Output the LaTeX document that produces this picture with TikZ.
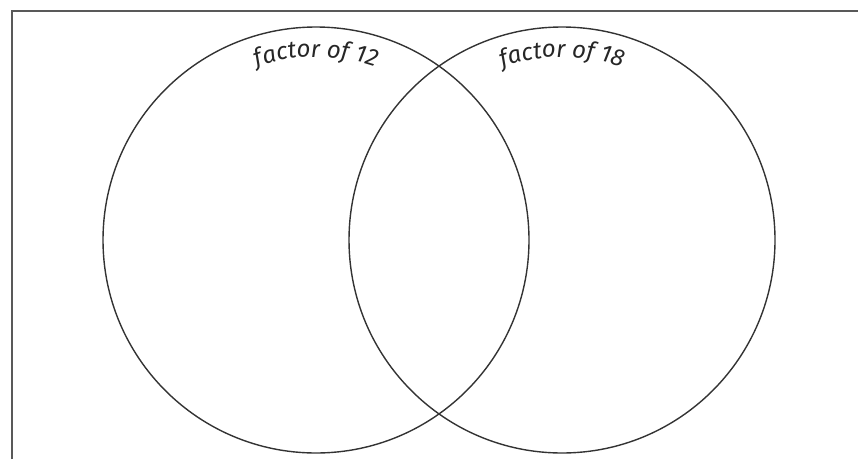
\documentclass[tikz,border=0pt]{standalone}
\usepackage{fontspec}
\setmainfont{Fira Sans}
\newfontfamily\lab{Fira Sans Italic}
\usetikzlibrary{decorations.text}
\begin{document}
\begin{tikzpicture}[x=1pt,y=1pt,
  frame/.style={draw=black!65,line width=2pt},
  setc/.style={circle,draw=black!80,line width=1.4pt,minimum size=426pt,inner sep=0pt},
  arclabel/.style={decorate,decoration={text along path,text align=center,text color=black!85,text={|\lab\fontsize{24}{24}\selectfont|#1}}}]
\useasboundingbox (0,0) rectangle (858,459);
\coordinate (bl) at (12,0);
\coordinate (tl) at (12,448);
\coordinate (tr) at (858,448);
\draw[frame] (bl) -- (tl) -- (tr);
\node[setc] (A) at (316,219) {};
\node[setc] (B) at (562,219) {};
\path[arclabel={factor of 12}] ([shift={(140:183)}]A.center) arc[start angle=140,end angle=40,radius=183];
\path[arclabel={factor of 18}] ([shift={(140:183)}]B.center) arc[start angle=140,end angle=40,radius=183];
\end{tikzpicture}
\end{document}
